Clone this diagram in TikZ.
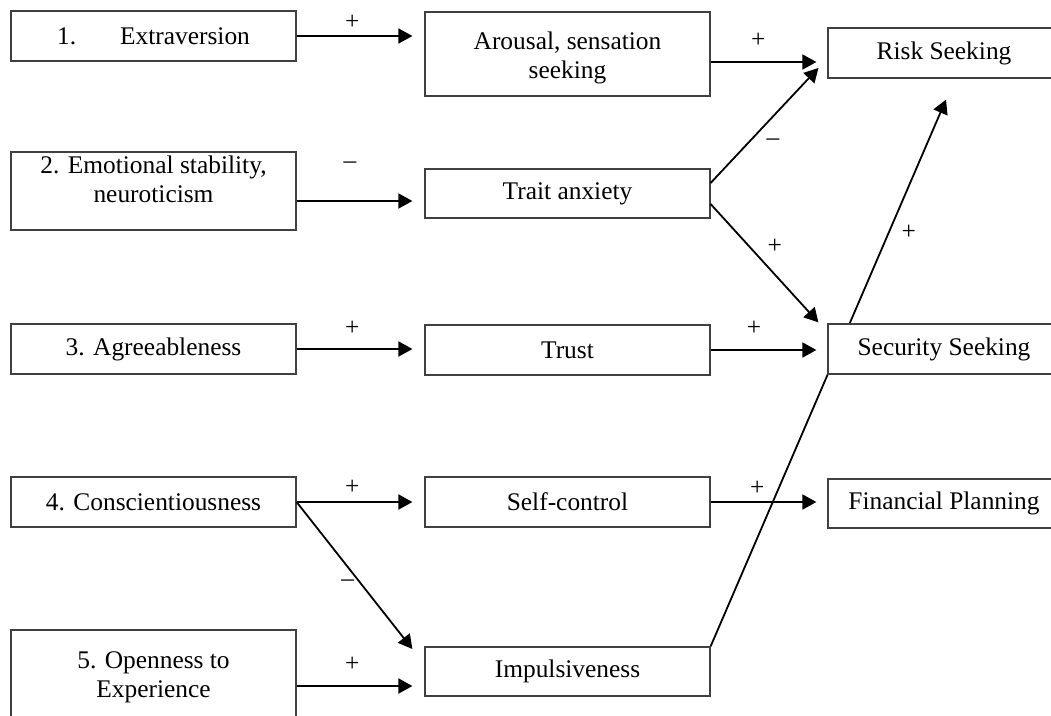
\documentclass[tikz,border=0pt]{standalone}
\usepackage{fontspec}
\setmainfont{Liberation Serif}
\usetikzlibrary{arrows.meta,calc,backgrounds}
\begin{document}
\begin{tikzpicture}[x=1pt,y=-1pt,
  box/.style={draw=black!75, line width=1.2pt, fill=white, rectangle, inner sep=0pt,
    font=\fontsize{25.4}{29}\selectfont, align=center},
  lbox/.style={box, minimum width=285pt},
  rbox/.style={box, minimum width=232pt},
  arr/.style={draw=black, line width=1.8pt, -{Triangle[length=14pt,width=15pt]}},
  lbl/.style={font=\fontsize{25.4}{29}\selectfont, inner sep=0pt},
  txt/.style={font=\fontsize{25.4}{29}\selectfont, align=center, inner sep=0pt}]
\useasboundingbox (0,0) rectangle (1051,715);
\clip (0,0) rectangle (1051,715);
% left column
\node[lbox, minimum height=50pt] (e1) at (153.5,36) {1.\hspace{44pt}Extraversion};
\node[lbox, minimum height=78pt,
  label={[txt,yshift=11.5pt]center:{2. Emotional stability,\\neuroticism}}] (e2) at (153.5,191) {};
\node[lbox, minimum height=50pt] (e3) at (153.5,349) {3. Agreeableness};
\node[lbox, minimum height=50pt] (e4) at (153.5,502) {4. Conscientiousness};
\node[lbox, minimum height=94pt] (e5) at (153.5,677) {5. Openness to\\Experience};
% middle column
\node[lbox, minimum height=84pt,
  label={[txt,yshift=-4pt]center:{Arousal, sensation\\seeking}}] (aro) at (567.5,54) {};
\node[lbox, minimum height=49pt] (tra) at (567.5,193.5) {Trait anxiety};
\node[lbox, minimum height=50pt] (tru) at (567.5,350) {Trust};
\node[lbox, minimum height=50pt] (sel) at (567.5,502) {Self-control};
\node[lbox, minimum height=49pt] (imp) at (567.5,671.5) {Impulsiveness};
% right column
\node[rbox, minimum height=50pt] (ris) at (944,53) {Risk Seeking};
\node[rbox, minimum height=50pt] (sec) at (944,349) {Security Seeking};
\node[rbox, minimum height=49pt] (fin) at (944,503.5) {Financial Planning};
% connectors
\begin{scope}[on background layer]
\draw[arr] (imp.north east) -- node[lbl,pos=.757,xshift=20pt] (l12) {+} ($(ris.south)+(2,21)$);
\end{scope}
\draw[arr] (e1.east) -- node[lbl,pos=.48,yshift=14pt] (l1) {+} ($(e1.east -| aro.west)+(-12,0)$);
\draw[arr] ($(e2.east)+(0,10)$) -- node[lbl,pos=.46,yshift=36pt] (l2) {–} ($(e2.east -| tra.west)+(-12,10)$);
\draw[arr] (e3.east) -- node[lbl,pos=.48,yshift=21pt] (l3) {+} ($(e3.east -| tru.west)+(-12,0)$);
\draw[arr] (e4.east) -- node[lbl,pos=.48,yshift=15pt] (l4) {+} ($(e4.east -| sel.west)+(-12,0)$);
\draw[arr] (e4.east) -- node[lbl,pos=.55,xshift=-12.5pt] (l5) {–} ($(imp.west)+(-12,-22.5)$);
\draw[arr] ($(e5.east)+(0,9)$) -- node[lbl,pos=.48,yshift=22pt] (l6) {+} ($(e5.east -| imp.west)+(-12,9)$);
\draw[arr] ($(aro.east)+(0,8)$) -- node[lbl,pos=.45,yshift=22pt] (l7) {+} ($(aro.east -| ris.west)+(-11,8)$);
\draw[arr] ($(tra.east)+(0,-10.5)$) -- node[lbl,pos=.578,yshift=-25.5pt] (l8) {–} ($(ris.west)+(-9,15)$);
\draw[arr] ($(tra.east)+(0,10.5)$) -- node[lbl,pos=.596,yshift=28pt] (l9) {+} ($(sec.north west)+(-9,-1)$);
\draw[arr] (tru.east) -- node[lbl,pos=.41,yshift=22pt] (l10) {+} ($(tru.east -| sec.west)+(-11,0)$);
\draw[arr] (sel.east) -- node[lbl,pos=.44,yshift=14pt] (l11) {+} ($(sel.east -| fin.west)+(-11,0)$);
\end{tikzpicture}
\end{document}
